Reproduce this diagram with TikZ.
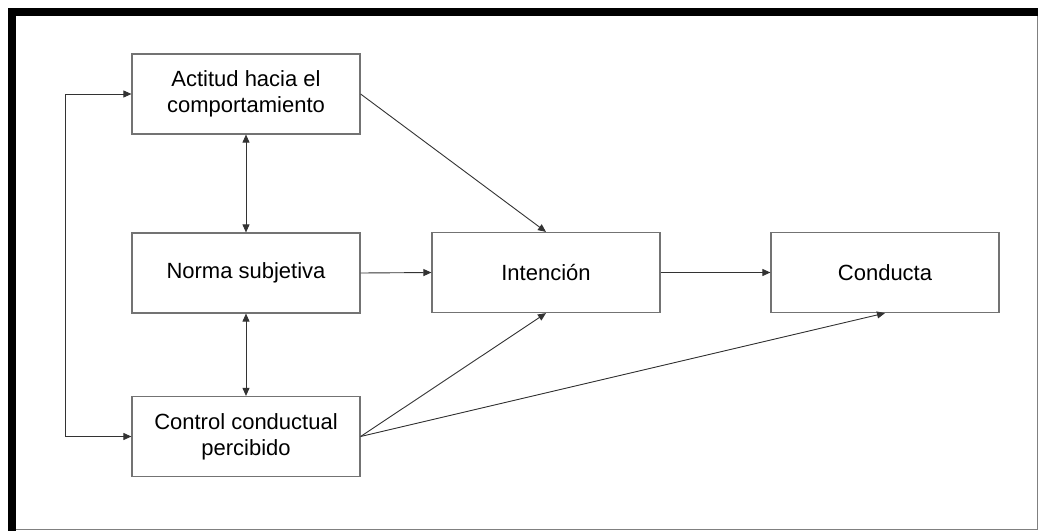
\documentclass[tikz,border=0pt]{standalone}
\usepackage{fontspec}
\setmainfont{Liberation Sans}
\usetikzlibrary{arrows.meta}

\begin{document}
\begin{tikzpicture}[x=1pt, y=-1pt,
  box/.style={draw=black!55, line width=1.2pt, fill=white, minimum width=228pt,
    minimum height=80pt, inner sep=0pt, align=center,
    font=\fontsize{22pt}{26pt}\selectfont},
  link/.style={draw=black!80, line width=0.9pt,
    -{Triangle[length=8pt, width=7pt]}},
  duplex/.style={link, {Triangle[length=8pt, width=7pt]}-{Triangle[length=8pt, width=7pt]}}
]
  % canvas and frame
  \fill[white] (0,0) rectangle (1039,531);
  \useasboundingbox (0,0) rectangle (1039,531);
  \fill[black] (8,8) rectangle (1038,16);
  \fill[black] (8,8) rectangle (16,531);
  \draw[black!50, line width=1pt] (1037.5,16) -- (1037.5,529.5) -- (16,529.5);

  % boxes
  \node[box] (A) at (246,94)   {Actitud hacia el\\comportamiento};
  \node[box] (N) at (246,273)  {Norma subjetiva};
  \node[box] (C) at (246,436.5) {Control conductual\\percibido};
  \node[box] (I) at (546,272.5) {Intención};
  \node[box] (K) at (885,272.5) {Conducta};

  % connectors
  \coordinate (loop) at (65,0);
  \draw[duplex] (A.south) -- (N.north);
  \draw[duplex] (N.south) -- (C.north);
  \draw[duplex] (A.west) -- (A.west -| loop) -- (C.west -| loop) -- (C.west);
  \draw[link] (N.east) -- (I.west);
  \draw[link] (I.east) -- (K.west);
  \draw[link] (A.east) -- (I.north);
  \draw[link] (C.east) -- (I.south);
  \draw[link] (C.east) -- (K.south);
\end{tikzpicture}
\end{document}
